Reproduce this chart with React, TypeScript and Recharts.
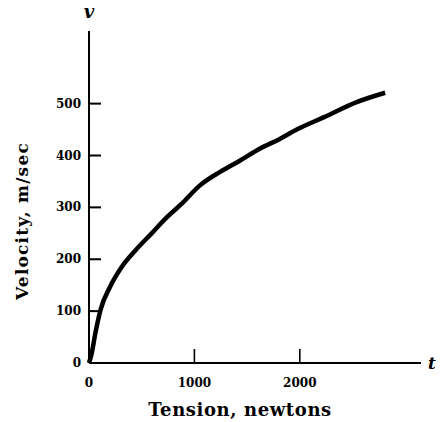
import React from 'react';
import { LineChart, Line, XAxis, YAxis } from 'recharts';

// tension (newtons) and velocity (m/sec)
const tension = [0, 25, 60, 110, 200, 310, 440, 590, 740, 880, 1050, 1240, 1430, 1620, 1810, 1980, 2230, 2540, 2810];
const velocity = [0, 18, 57, 103, 147, 185, 217, 249, 281, 307, 342, 368, 390, 413, 432, 451, 474, 503, 521];
const xTicks = [0, 1000, 2000];
const yTicks = [0, 100, 200, 300, 400, 500];

const data = tension.map((t, i) => ({ t, v: velocity[i] }));

const FONT = '"DejaVu Serif", "Liberation Serif", serif';

// tick mark drawn inward as a filled bar, label outside
const XTick = ({ x, y, payload }: any) => (
  <g>
    {payload.value !== 0 && <rect x={x - 0.8} y={y - 14} width={1.6} height={14} fill="#000" />}
    <text x={x} y={y + 24} textAnchor="middle" fontFamily={FONT} fontWeight="bold" fontSize={12} fill="#000">
      {payload.value}
    </text>
  </g>
);

const YTick = ({ x, y, payload }: any) => (
  <g>
    {payload.value !== 0 && <rect x={x} y={y - 1} width={12} height={2} fill="#000" />}
    <text x={x - 8} y={y + 4} textAnchor="end" fontFamily={FONT} fontWeight="bold" fontSize={12} fill="#000">
      {payload.value}
    </text>
  </g>
);

// axis titles and the v / t letters, drawn over the chart
const Titles = () => (
  <svg width={448} height={422} style={{ position: 'absolute', left: 0, top: 0, pointerEvents: 'none' }}>
    <text x={240} y={416} textAnchor="middle" fontFamily={FONT} fontWeight="bold" fontSize={18} letterSpacing={0.6} fill="#000">
      Tension, newtons
    </text>
    <text
      x={23}
      y={221}
      transform="rotate(-90 23 221)"
      textAnchor="middle"
      dominantBaseline="middle"
      fontFamily={FONT}
      fontWeight="bold"
      fontSize={17}
      letterSpacing={1.2}
      fill="#000"
    >
      Velocity, m/sec
    </text>
    <text x={89} y={18} textAnchor="middle" fontFamily={FONT} fontStyle="italic" fontWeight="bold" fontSize={18} fill="#000">
      v
    </text>
    <text x={432} y={369} textAnchor="middle" fontFamily={FONT} fontStyle="italic" fontWeight="bold" fontSize={17} fill="#000">
      t
    </text>
  </svg>
);

export default function App() {
  return (
    <div style={{ position: 'absolute', left: 0, top: 0, width: 448, height: 422, background: '#fff' }}>
      <LineChart width={448} height={422} data={data} margin={{ top: 31, right: 27, bottom: 0, left: 29 }}>
        <XAxis
          type="number"
          dataKey="t"
          domain={[0, 3150]}
          ticks={xTicks}
          axisLine={{ stroke: '#000', strokeWidth: 2 }}
          tickLine={false}
          tickSize={0}
          tickMargin={0}
          tick={XTick}
          height={59}
        />
        <YAxis
          type="number"
          dataKey="v"
          domain={[0, 640]}
          ticks={yTicks}
          axisLine={{ stroke: '#000', strokeWidth: 2 }}
          tickLine={false}
          tickSize={0}
          tickMargin={0}
          tick={YTick}
          width={60}
        />
        <Line type="monotone" dataKey="v" stroke="#000" strokeWidth={4.5} dot={false} isAnimationActive={false} />
      </LineChart>
      <Titles />
    </div>
  );
}
